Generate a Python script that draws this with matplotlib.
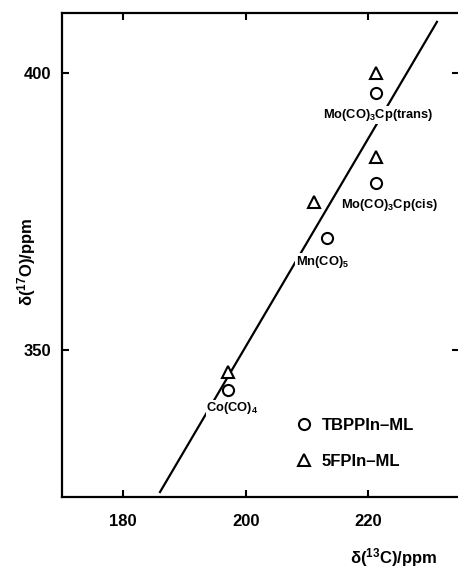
import matplotlib
matplotlib.use("Agg")
import matplotlib.pyplot as plt
from matplotlib.lines import Line2D

plt.rcParams['font.family'] = ['Liberation Sans', 'DejaVu Sans']
plt.rcParams['font.weight'] = 'bold'
plt.rcParams['mathtext.fontset'] = 'custom'
plt.rcParams['mathtext.rm'] = 'Liberation Sans:bold'
plt.rcParams['mathtext.it'] = 'Liberation Sans:bold'
plt.rcParams['mathtext.bf'] = 'Liberation Sans:bold'
plt.rcParams['mathtext.default'] = 'rm'

# Data (delta 13C, delta 17O in ppm)
compounds = ["Mo(CO)$_3$Cp(trans)", "Mo(CO)$_3$Cp(cis)", "Mn(CO)$_5$", "Co(CO)$_4$"]
tbppin_c = [221.3, 221.2, 213.3, 197.1]
tbppin_o = [396.4, 380.1, 370.2, 342.8]
fpin_c = [221.2, 221.2, 211.1, 197.1]
fpin_o = [400.0, 384.8, 376.7, 346.0]
fit_c = [186.0, 231.2]
fit_o = [324.4, 409.2]
label_c = [221.6, 223.4, 212.5, 197.8]
label_o = [392.4, 376.2, 365.9, 339.5]

fig = plt.figure(figsize=(4.58, 5.68), dpi=100)
ax = fig.add_axes([62/458, 1-497/568, 397/458, 484/568])
ax.set_xlim(170, 234.8)
ax.set_ylim(323.5, 410.8)

ax.plot(fit_c, fit_o, color='black', lw=1.6, zorder=1)
ax.plot(tbppin_c, tbppin_o, linestyle='none', marker='o', ms=8, mfc='white',
        mec='black', mew=1.5, zorder=3)
ax.plot(fpin_c, fpin_o, linestyle='none', marker='^', ms=8, mfc='white',
        mec='black', mew=1.5, zorder=3)

for name, xc, yo in zip(compounds, label_c, label_o):
    ax.text(xc, yo, name, ha='center', va='center', fontsize=9.3, fontweight='bold',
            zorder=2, bbox=dict(facecolor='white', edgecolor='none', pad=0.5))

ax.set_xticks([180, 200, 220])
ax.set_yticks([350, 400])
ax.tick_params(direction='in', length=5, width=1.5, top=True, right=True,
               labelsize=12, pad=8)
ax.tick_params(axis='x', pad=12)
for lab in ax.get_xticklabels() + ax.get_yticklabels():
    lab.set_fontweight('bold')
for s in ax.spines.values():
    s.set_linewidth(1.6)
ax.spines['right'].set_visible(False)

handles = [Line2D([], [], linestyle='none', marker='o', ms=8, mfc='white', mec='black', mew=1.5),
           Line2D([], [], linestyle='none', marker='^', ms=8, mfc='white', mec='black', mew=1.5)]
ax.legend(handles, ['TBPPIn\u2013ML', '5FPIn\u2013ML'], loc='upper left',
          bbox_to_anchor=(0.55, 0.195), frameon=False,
          handlelength=1.0, handletextpad=0.6, labelspacing=1.3,
          prop={'weight': 'bold', 'size': 12})

fig.text(27/458, 1-262/568, "δ($^{17}$O)/ppm", rotation=90, ha='center', va='center',
         fontsize=12, fontweight='bold')
fig.text(437/458, 1-558/568, "δ($^{13}$C)/ppm", ha='right', va='center',
         fontsize=12, fontweight='bold')

fig.savefig("out.png", dpi=100)
